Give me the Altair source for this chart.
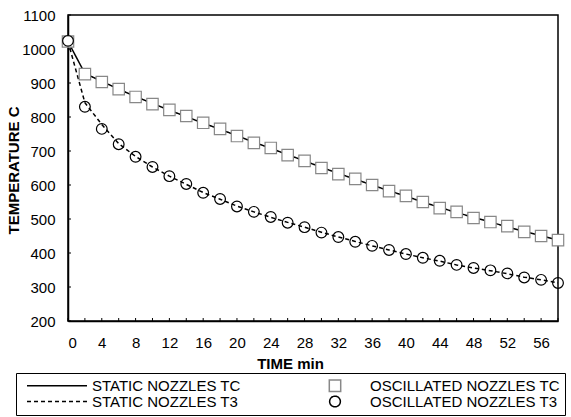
import altair as alt
import pandas as pd

# ---- data ----
time_min = list(range(0, 60, 2))
static_tc = [1022, 928, 905, 882, 860, 840, 820, 801, 782, 764, 745, 726, 708, 689, 671,
             652, 634, 617, 600, 583, 567, 550, 534, 519, 505, 491, 477, 463, 451, 438]
static_t3 = [1022, 842, 778, 722, 684, 653, 626, 602, 578, 558, 538, 521, 505, 490, 476,
             461, 447, 434, 421, 409, 397, 386, 376, 365, 356, 348, 339, 329, 321, 312]
osc_tc = [1022, 926, 903, 882, 859, 838, 821, 803, 783, 765, 744, 724, 709, 688, 671,
          650, 632, 618, 600, 582, 568, 550, 532, 521, 503, 491, 479, 462, 450, 438]
osc_t3 = [1024, 830, 765, 720, 683, 653, 626, 603, 577, 559, 537, 521, 506, 489, 476,
          460, 447, 433, 421, 409, 397, 386, 377, 365, 356, 349, 340, 328, 321, 312]

x_ticks = list(range(0, 60, 2))
x_labels = list(range(0, 57, 4))
y_ticks = list(range(200, 1101, 100))

S_TC = "STATIC NOZZLES TC"
S_T3 = "STATIC NOZZLES T3"
O_TC = "OSCILLATED NOZZLES TC"
O_T3 = "OSCILLATED NOZZLES T3"
# legend entries fill column by column
legend_order = [S_TC, S_T3, O_TC, O_T3]
shape_range = ["stroke", "stroke", "square", "circle"]
color_range = ["black", "black", "#888888", "black"]
size_range = [3600, 3600, 130, 115]
dash_range = [[1, 0], [4, 3], [1, 0], [1, 0]]

n = len(time_min)
lines_df = pd.DataFrame({"t": time_min * 2, "v": static_tc + static_t3,
                         "series": [S_TC] * n + [S_T3] * n})
sq_df = pd.DataFrame({"t": time_min, "v": osc_tc, "series": [O_TC] * n})
ci_df = pd.DataFrame({"t": time_min, "v": osc_t3, "series": [O_T3] * n})
xt_df = pd.DataFrame({"t": x_ticks})
yt_df = pd.DataFrame({"v": y_ticks})

W, H = 490, 306
FONT = "Liberation Sans"

xs = alt.Scale(domain=[0, 58], nice=False, zero=False)
ys = alt.Scale(domain=[200, 1100], nice=False, zero=False)

x_axis = alt.Axis(values=x_labels, title="TIME min", grid=False, ticks=False, tickSize=0,
                  labelOverlap=False, format="d",
                  labelPadding=14, labelFontSize=15, labelFont=FONT, labelColor="black",
                  titleFont=FONT, titleFontSize=15, titleFontWeight="bold", titleColor="black",
                  titleX=222, titleY=47, titleBaseline="alphabetic", titleAlign="center",
                  domainColor="black", domainWidth=1.5)
y_axis = alt.Axis(values=y_ticks, title="TEMPERATURE C", grid=False, ticks=False, tickSize=0,
                  labelOverlap=False, format="d",
                  labelPadding=13, labelFontSize=15, labelFont=FONT, labelColor="black",
                  titleFont=FONT, titleFontSize=15, titleFontWeight="bold", titleColor="black",
                  titleAngle=270, titleX=-50, titleY=155, titleBaseline="alphabetic",
                  titleAlign="center", domainColor="black", domainWidth=1.5)

legend = alt.Legend(
    title=None, orient="none", legendX=-52, legendY=358, columns=2,
    symbolStrokeWidth=1.5, clipHeight=15, symbolOffset=5, labelOffset=4,
    columnPadding=58, rowPadding=0, padding=5,
    strokeColor="black", fillColor="white", cornerRadius=0,
    labelFont=FONT, labelFontSize=15, labelColor="black", labelLimit=400,
)
shape_scale = alt.Scale(domain=legend_order, range=shape_range)
color_scale = alt.Scale(domain=legend_order, range=color_range)
size_scale = alt.Scale(type="ordinal", domain=legend_order, range=size_range)
dash_scale = alt.Scale(domain=legend_order, range=dash_range)

xticks = alt.Chart(xt_df).mark_rule(color="black", strokeWidth=1).encode(
    x=alt.X("t:Q", scale=xs, axis=x_axis), y=alt.value(H), y2=alt.value(H - 3))
yticks = alt.Chart(yt_df).mark_rule(color="black", strokeWidth=1).encode(
    y=alt.Y("v:Q", scale=ys, axis=y_axis), x=alt.value(0), x2=alt.value(3))

lines = alt.Chart(lines_df).mark_line(color="black", strokeWidth=1.5).encode(
    x=alt.X("t:Q", scale=xs, axis=x_axis),
    y=alt.Y("v:Q", scale=ys, axis=y_axis),
    detail="series:N",
    strokeDash=alt.StrokeDash("series:N", scale=dash_scale, legend=legend),
)

squares = alt.Chart(sq_df).mark_point(filled=False, strokeWidth=1.2, opacity=1,
                                      fillOpacity=1).encode(
    x=alt.X("t:Q", scale=xs, axis=x_axis), y=alt.Y("v:Q", scale=ys, axis=y_axis),
    color=alt.Color("series:N", scale=color_scale, legend=legend),
    fill=alt.value("white"),
    shape=alt.Shape("series:N", scale=shape_scale, legend=legend),
    size=alt.Size("series:N", scale=size_scale, legend=legend),
)
circles = alt.Chart(ci_df).mark_point(filled=False, strokeWidth=1.2, opacity=1).encode(
    x=alt.X("t:Q", scale=xs, axis=x_axis), y=alt.Y("v:Q", scale=ys, axis=y_axis),
    color=alt.Color("series:N", scale=color_scale, legend=legend),
    shape=alt.Shape("series:N", scale=shape_scale, legend=legend),
    size=alt.Size("series:N", scale=size_scale, legend=legend),
)

chart = alt.layer(xticks, yticks, lines, squares, circles).properties(
    width=W, height=H,
    autosize=alt.AutoSizeParams(type="none"),
    padding={"left": 68, "top": 15, "right": 13, "bottom": 96},
    background="white",
).configure_view(stroke="black", strokeWidth=1.5)

chart.save("out.html", embed_options={"renderer": "svg", "actions": False})
